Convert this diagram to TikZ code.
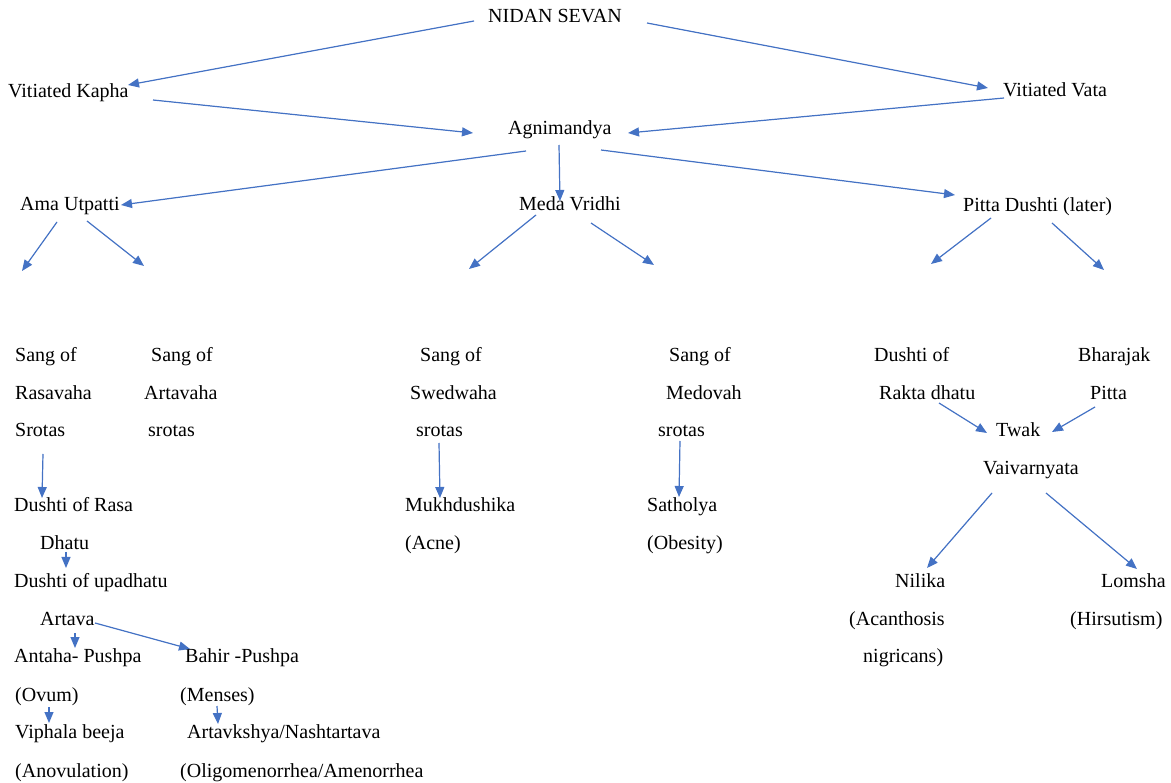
\documentclass[tikz,border=0pt]{standalone}
\usepackage{fontspec}
\setmainfont{Liberation Serif}
\usetikzlibrary{arrows.meta}
\definecolor{arrblue}{HTML}{4472C4}
\begin{document}
\begin{tikzpicture}[x=1pt,y=-1pt,
  lbl/.style={anchor=base west, inner sep=0pt, font=\fontsize{20}{24}\selectfont},
  arr/.style={draw=arrblue, line width=1.2pt, -{Triangle[length=11pt,width=9pt]}, arrow tip fill},
  arrow tip fill/.style={fill=arrblue}]
\useasboundingbox (0,0) rectangle (1171,783);
% top levels
\node[lbl] (nidan) at (488,23) {NIDAN SEVAN};
\node[lbl] (kapha) at (8,98) {Vitiated Kapha};
\node[lbl] (vata) at (1003,97) {Vitiated Vata};
\node[lbl] (agni) at (508,135) {Agnimandya};
\node[lbl] (ama) at (20,211) {Ama Utpatti};
\node[lbl] (meda) at (519,211) {Meda Vridhi};
\node[lbl] (pitta) at (963,212) {Pitta Dushti (later)};
% free ends
\coordinate (amaL) at (22,271);
\coordinate (amaR) at (144,266);
\coordinate (medaL) at (469,269);
\coordinate (medaR) at (654,265);
\coordinate (pittaL) at (931,264);
\coordinate (pittaR) at (1104,270);
% columns
\node[lbl] (s1a) at (15,362) {Sang of};
\node[lbl] (s1b) at (15,399.5) {Rasavaha};
\node[lbl] (s1c) at (15,437) {Srotas};
\node[lbl] (s2a) at (151,362) {Sang of};
\node[lbl] (s2b) at (144,399.5) {Artavaha};
\node[lbl] (s2c) at (148,437) {srotas};
\node[lbl] (s3a) at (420,362) {Sang of};
\node[lbl] (s3b) at (410,399.5) {Swedwaha};
\node[lbl] (s3c) at (416,437) {srotas};
\node[lbl] (s4a) at (669,362) {Sang of};
\node[lbl] (s4b) at (666,399.5) {Medovah};
\node[lbl] (s4c) at (658,437) {srotas};
\node[lbl] (d1a) at (874,362) {Dushti of};
\node[lbl] (d1b) at (879,399.5) {Rakta dhatu};
\node[lbl] (b1a) at (1078,362) {Bharajak};
\node[lbl] (b1b) at (1090,399.5) {Pitta};
\node[lbl] (twak) at (996,437) {Twak};
\node[lbl] (vaiv) at (983,475) {Vaivarnyata};
\node[lbl] (rasa1) at (14,512) {Dushti of Rasa};
\node[lbl] (rasa2) at (40,550) {Dhatu};
\node[lbl] (upa1) at (14,587.5) {Dushti of upadhatu};
\node[lbl] (upa2) at (40,625) {Artava};
\node[lbl] (antaha) at (14,662) {Antaha- Pushpa};
\node[lbl] (bahir) at (185,662) {Bahir -Pushpa};
\node[lbl] (ovum) at (15,701) {(Ovum)};
\node[lbl] (menses) at (180,701) {(Menses)};
\node[lbl] (viphala) at (15,738) {Viphala beeja};
\node[lbl] (artavk) at (187,738) {Artavkshya/Nashtartava};
\node[lbl] (anov) at (15,777) {(Anovulation)};
\node[lbl] (oligo) at (180,777) {(Oligomenorrhea/Amenorrhea};
\node[lbl] (mukh) at (405,512) {Mukhdushika};
\node[lbl] (acne) at (405,550) {(Acne)};
\node[lbl] (sath) at (647,512) {Satholya};
\node[lbl] (obes) at (647,550) {(Obesity)};
\node[lbl] (nilika) at (895,587.5) {Nilika};
\node[lbl] (acan) at (849,625) {(Acanthosis};
\node[lbl] (nigr) at (863,662) {nigricans)};
\node[lbl] (lomsha) at (1101,587.5) {Lomsha};
\node[lbl] (hirs) at (1070,625) {(Hirsutism)};
% connectors
\draw[arr] ([shift={(-14,-2)}]nidan.base west) -- ([shift={(120,-13)}]kapha.base west);
\draw[arr] ([shift={(159,0)}]nidan.base west) -- ([shift={(-15,-9)}]vata.base west);
\draw[arr] ([shift={(145,2)}]kapha.base west) -- ([shift={(-35,-2)}]agni.base west);
\draw[arr] ([shift={(1,1)}]vata.base west) -- ([shift={(120,-2)}]agni.base west);
\draw[arr] ([shift={(18,16)}]agni.base west) -- ([shift={(101,-6)}]ama.base west);
\draw[arr] ([shift={(51,10)}]agni.base west) -- ([shift={(41,-10)}]meda.base west);
\draw[arr] ([shift={(93,15)}]agni.base west) -- ([shift={(-8,-17)}]pitta.base west);
\draw[arr] ([shift={(37,11)}]ama.base west) -- (amaL);
\draw[arr] ([shift={(67,10)}]ama.base west) -- (amaR);
\draw[arr] ([shift={(17,4)}]meda.base west) -- (medaL);
\draw[arr] ([shift={(72,12)}]meda.base west) -- (medaR);
\draw[arr] ([shift={(28,6)}]pitta.base west) -- (pittaL);
\draw[arr] ([shift={(89,11)}]pitta.base west) -- (pittaR);
\draw[arr] ([shift={(28,17)}]s1c.base west) -- ([shift={(28,-14)}]rasa1.base west);
\draw[arr] ([shift={(23,6)}]s3c.base west) -- ([shift={(35,-14)}]mukh.base west);
\draw[arr] ([shift={(22,4)}]s4c.base west) -- ([shift={(32,-15)}]sath.base west);
\draw[arr] ([shift={(60,3.5)}]d1b.base west) -- ([shift={(-9,-4)}]twak.base west);
\draw[arr] ([shift={(5,7.5)}]b1b.base west) -- ([shift={(56,-5)}]twak.base west);
\draw[arr] ([shift={(9,18)}]vaiv.base west) -- ([shift={(32,-19.5)}]nilika.base west);
\draw[arr] ([shift={(63,18)}]vaiv.base west) -- ([shift={(36,-18.5)}]lomsha.base west);
\draw[arr] ([shift={(26,2)}]rasa2.base west) -- ([shift={(52,-19.5)}]upa1.base west);
\draw[arr] ([shift={(35,8)}]upa2.base west) -- ([shift={(61,-14)}]antaha.base west);
\draw[arr] ([shift={(55,-2)}]upa2.base west) -- ([shift={(5,-13)}]bahir.base west);
\draw[arr] ([shift={(34,6)}]ovum.base west) -- ([shift={(34,-15)}]viphala.base west);
\draw[arr] ([shift={(37,5)}]menses.base west) -- ([shift={(31,-14)}]artavk.base west);
\end{tikzpicture}
\end{document}
